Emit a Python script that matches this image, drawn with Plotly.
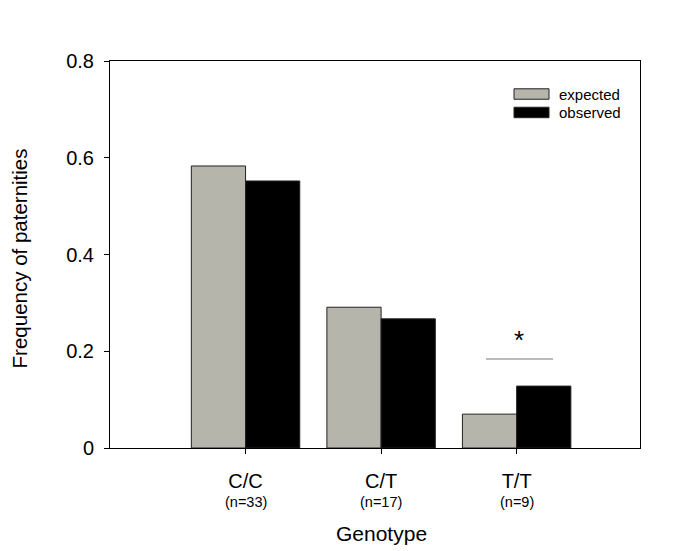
import plotly.graph_objects as go

genotypes = ["C/C", "C/T", "T/T"]
sample_sizes = ["(n=33)", "(n=17)", "(n=9)"]
positions = [1, 2, 3]
expected = [0.583, 0.291, 0.070]
observed = [0.552, 0.267, 0.128]
y_ticks = [0, 0.2, 0.4, 0.6, 0.8]
y_tick_labels = ["0", "0.2", "0.4", "0.6", "0.8"]

FONT = "Liberation Sans, Arial, sans-serif"
GREY = "#b5b5ab"

fig = go.Figure()
fig.add_trace(go.Bar(x=positions, y=expected, name="expected",
                     marker=dict(color=GREY, line=dict(color="#222", width=1))))
fig.add_trace(go.Bar(x=positions, y=observed, name="observed",
                     marker=dict(color="black", line=dict(color="#222", width=1))))

fig.update_layout(
    width=685, height=551,
    margin=dict(l=102, r=53, t=53, b=111),
    paper_bgcolor="white", plot_bgcolor="white",
    barmode="group", bargap=0.2, bargroupgap=0,
    showlegend=False,
    font=dict(family=FONT, color="black"),
)
fig.update_xaxes(
    range=[0, 3.91], tickvals=positions, ticktext=genotypes,
    tickfont=dict(size=20), ticks="outside", ticklen=5, tickcolor="black",
    ticklabelstandoff=10,
    showline=True, linecolor="black", linewidth=1, mirror=True,
    showgrid=False, zeroline=False,
)
fig.update_yaxes(
    range=[0, 0.8], tickvals=y_ticks, ticktext=y_tick_labels,
    tickfont=dict(size=20), ticks="outside", ticklen=5, tickcolor="black",
    ticklabelstandoff=6,
    showline=True, linecolor="black", linewidth=1, mirror=True,
    showgrid=False, zeroline=False,
)

# axis titles
fig.add_annotation(x=0.513, y=-0.22, xref="paper", yref="paper", text="Genotype",
                   showarrow=False, font=dict(size=21), yanchor="middle")
fig.add_annotation(x=-0.169, y=0.491, xref="paper", yref="paper",
                   text="Frequency of paternities", textangle=-90,
                   showarrow=False, font=dict(size=20.5), xanchor="center", yanchor="middle")

for p, n in zip(positions, sample_sizes):
    fig.add_annotation(x=p, y=-0.1395, xref="x", yref="paper", text=n,
                       showarrow=False, font=dict(size=14.5), yanchor="middle")

# significance marker over T/T
fig.add_shape(type="line", xref="x", yref="y", x0=2.774, x1=3.268, y0=0.184, y1=0.184,
              line=dict(color="#777", width=1))
fig.add_annotation(x=3.02, y=0.223, xref="x", yref="y", text="*", showarrow=False,
                   font=dict(size=26), yanchor="middle")

# custom legend
legend_items = [("expected", GREY, 0.9147), ("observed", "black", 0.867)]
for name, col, yy in legend_items:
    fig.add_shape(type="rect", xref="paper", yref="paper",
                  x0=(514 - 110) / 530, x1=(549 - 110) / 530,
                  y0=yy - 0.0135, y1=yy + 0.0135,
                  fillcolor=col, line=dict(color="#222", width=1))
    fig.add_annotation(x=(557 - 110) / 530, y=yy, xref="paper", yref="paper", text=name,
                       showarrow=False, xanchor="left", yanchor="middle", font=dict(size=15))

fig.write_html("out.html")
